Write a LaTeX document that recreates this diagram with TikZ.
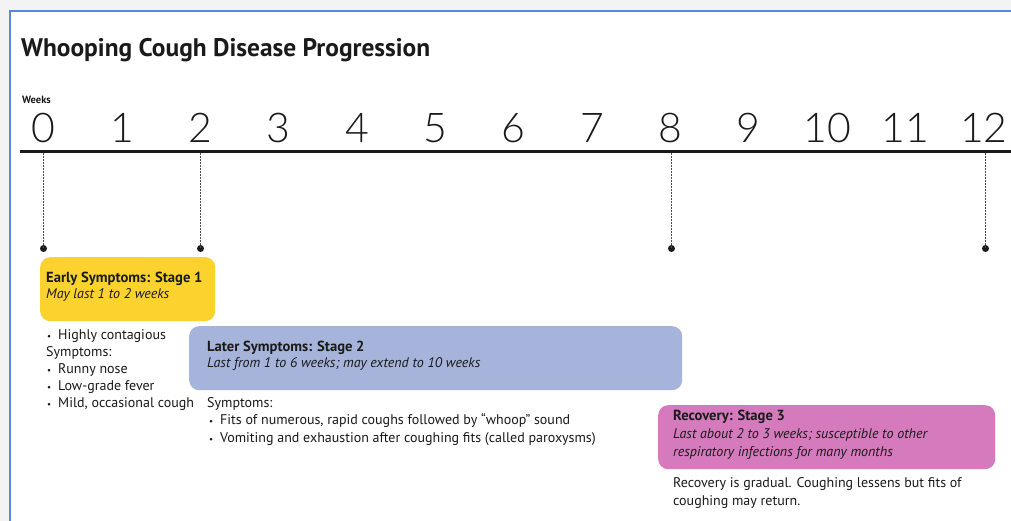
\documentclass[tikz,border=0pt]{standalone}
\usepackage{fontspec}
\setmainfont{PT Sans}
\newfontfamily\numfont{Lato Light}
\definecolor{pagegray}{HTML}{F3F3F3}
\definecolor{frameblue}{HTML}{5A88D8}
\definecolor{stageyellow}{HTML}{FBD22E}
\definecolor{stageblue}{HTML}{A6B4DB}
\definecolor{stagepink}{HTML}{D57ABD}
\definecolor{ink}{HTML}{1A1A1A}
\newcommand{\bul}[1]{\makebox[11pt][l]{\fontsize{9}{9}\selectfont\textbullet}#1}
\begin{document}
\begin{tikzpicture}[x=1pt,y=-1pt,
  txt/.style={anchor=base west,inner sep=0pt,text=ink,font=\fontsize{14}{16}\selectfont},
  head/.style={txt,font=\bfseries\fontsize{14.6}{16}\selectfont},
  sub/.style={txt,font=\itshape\fontsize{14}{16}\selectfont},
  num/.style={anchor=base,inner sep=0pt,text=ink,font=\numfont\fontsize{41}{41}\selectfont},
  stagebox/.style={draw=none,rounded corners=10pt,inner sep=0pt,anchor=north west},
  dot/.style={circle,fill=ink,inner sep=0pt,minimum size=7pt},
  guide/.style={draw=gray!60!black,line width=1.3pt,dash pattern=on 2pt off 1pt}
]
\useasboundingbox (0,0) rectangle (1011,521);
\fill[pagegray] (0,0) rectangle (1011,521);
\fill[white] (10,11) rectangle (1011,521);
\draw[frameblue,line width=2pt] (10,521) -- (10,11) -- (1011,11);

\node[anchor=base west,inner sep=0pt,text=ink,font=\bfseries\fontsize{25.4}{28}\selectfont] (title) at (21,57) {Whooping Cough Disease Progression};
\node[anchor=base west,inner sep=0pt,text=ink,font=\bfseries\fontsize{10.5}{12}\selectfont] (weeks) at (22,104) {Weeks};

\foreach \k in {0,...,12} {
  \node[num] (n\k) at ({43.7+78.35*\k},143) {\k};
}
\coordinate (tlL) at (20,151.5);
\coordinate (tlR) at (1011,151.5);
\draw[ink,line width=3pt] (tlL) -- (tlR);

\foreach \k in {0,2,8,12} {
  \coordinate (t\k) at ({43.5+78.5*\k},153);
  \node[dot] (d\k) at ({43.5+78.5*\k},248.5) {};
  \draw[guide] (t\k) -- (d\k.center);
}

% Stage 1
\node[stagebox,fill=stageyellow,minimum width=175pt,minimum height=64pt] (s1) at (40,257) {};
\node[head] (s1h) at (46,282) {Early Symptoms: Stage 1};
\node[sub] (s1s) at (46,298) {May last 1 to 2 weeks};
\node[txt] (l1) at (47,339) {\bul{Highly contagious}};
\node[txt] (l2) at (46,356) {Symptoms:};
\node[txt] (l3) at (47,373) {\bul{Runny nose}};
\node[txt] (l4) at (47,390) {\bul{Low-grade fever}};
\node[txt] (l5) at (47,407) {\bul{Mild, occasional cough}};

% Stage 2
\node[stagebox,fill=stageblue,minimum width=493pt,minimum height=64pt] (s2) at (189,326) {};
\node[head] (s2h) at (207,351) {Later Symptoms: Stage 2};
\node[sub] (s2s) at (207,367) {Last from 1 to 6 weeks; may extend to 10 weeks};
\node[txt] (m1) at (207,407) {Symptoms:};
\node[txt] (m2) at (209,424.5) {\bul{Fits of numerous, rapid coughs followed by “whoop” sound}};
\node[txt] (m3) at (209,442) {\bul{Vomiting and exhaustion after coughing fits (called paroxysms)}};

% Stage 3
\node[stagebox,fill=stagepink,minimum width=337pt,minimum height=64pt] (s3) at (658,405) {};
\node[head] (s3h) at (673,420) {Recovery: Stage 3};
\node[sub] (s3s) at (673,438) {Last about 2 to 3 weeks; susceptible to other};
\node[sub] (s3t) at (673,456) {respiratory infections for many months};
\node[txt] (r1) at (673,487) {Recovery is gradual. Coughing lessens but fits of};
\node[txt] (r2) at (673,505) {coughing may return.};
\end{tikzpicture}
\end{document}
